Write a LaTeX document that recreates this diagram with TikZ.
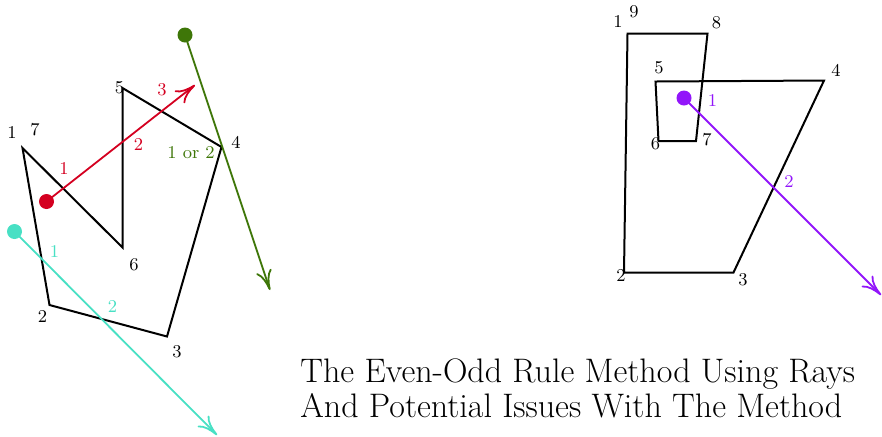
\documentclass[tikz,border=0pt]{standalone}
\usetikzlibrary{arrows.meta}
\definecolor{rayred}{RGB}{212,0,32}
\definecolor{raygreen}{RGB}{62,118,8}
\definecolor{raycyan}{RGB}{72,224,196}
\definecolor{raypurple}{RGB}{146,22,250}
\tikzset{
  poly/.style={draw=black,line width=1pt,line join=miter},
  ray/.style={line width=0.9pt,-{To[length=10pt,width=8pt]}},
  dotc/.style={circle,inner sep=0pt,minimum size=7.5pt},
  lbl/.style={inner sep=0pt,font=\fontsize{9}{10}\selectfont},
  title/.style={inner sep=0pt,anchor=base west,align=left,font=\fontsize{17}{17.5}\selectfont}
}
\begin{document}
\begin{tikzpicture}[x=0.5pt,y=-0.5pt]
\useasboundingbox (0,0) rectangle (882,436);
% left polygon
\coordinate (a1) at (22.5,148);
\coordinate (a2) at (49.5,305);
\coordinate (a3) at (167,336.5);
\coordinate (a4) at (221.5,147);
\coordinate (a5) at (122.5,88);
\coordinate (a6) at (122.5,247.5);
\draw[poly] (a1) -- (a2) -- (a3) -- (a4) -- (a5) -- (a6) -- cycle;
\node[lbl] (la1) at (12,132) {1};
\node[lbl] (la7) at (35,130) {7};
\node[lbl] (la2) at (42.5,316) {2};
\node[lbl] (la3) at (177,351.5) {3};
\node[lbl] (la4) at (236,142.5) {4};
\node[lbl] (la5) at (119.5,88) {5};
\node[lbl] (la6) at (134,264.5) {6};
% red ray
\node[dotc,fill=rayred] (rd) at (46.5,201.5) {};
\coordinate (rt) at (195,85);
\draw[ray,rayred] (rd.center) -- (rt);
\node[lbl,text=rayred] (r1) at (64,168) {1};
\node[lbl,text=rayred] (r2) at (138.5,144) {2};
\node[lbl,text=rayred] (r3) at (162,90) {3};
% green ray
\node[dotc,fill=raygreen] (gd) at (185,35) {};
\coordinate (gt) at (270,290);
\draw[ray,raygreen] (gd.center) -- (gt);
\node[lbl,text=raygreen] (g1) at (191,152.5) {1 or 2};
% cyan ray
\node[dotc,fill=raycyan] (cd) at (14.5,231.5) {};
\coordinate (ct) at (217,435);
\draw[ray,raycyan] (cd.center) -- (ct);
\node[lbl,text=raycyan] (c1) at (54.5,251.5) {1};
\node[lbl,text=raycyan] (c2) at (112.5,306) {2};
% right polygon
\coordinate (b1) at (627.5,33.5);
\coordinate (b2) at (624,272.5);
\coordinate (b3) at (733.5,272.5);
\coordinate (b4) at (824,80.5);
\coordinate (b5) at (655.5,81.5);
\coordinate (b6) at (658.5,141);
\coordinate (b7) at (696,141);
\coordinate (b8) at (707.5,33.5);
\draw[poly] (b1) -- (b2) -- (b3) -- (b4) -- (b5) -- (b6) -- (b7) -- (b8) -- cycle;
\node[lbl] (lb1) at (618,21.5) {1};
\node[lbl] (lb9) at (634,12) {9};
\node[lbl] (lb8) at (716.5,22.5) {8};
\node[lbl] (lb5) at (659,68) {5};
\node[lbl] (lb4) at (836,70.5) {4};
\node[lbl] (lb6) at (655.5,144) {6};
\node[lbl] (lb7) at (707,140) {7};
\node[lbl] (lb2) at (621,275) {2};
\node[lbl] (lb3) at (743,280) {3};
% purple ray
\node[dotc,fill=raypurple] (pd) at (684,98) {};
\coordinate (pt) at (881,295);
\draw[ray,raypurple] (pd.center) -- (pt);
\node[lbl,text=raypurple] (p1) at (712.5,100) {1};
\node[lbl,text=raypurple] (p2) at (789,181) {2};
% title
\node[title] (ttl) at (300,417) {The Even-Odd Rule Method Using Rays\\And Potential Issues With The Method};
\end{tikzpicture}
\end{document}
